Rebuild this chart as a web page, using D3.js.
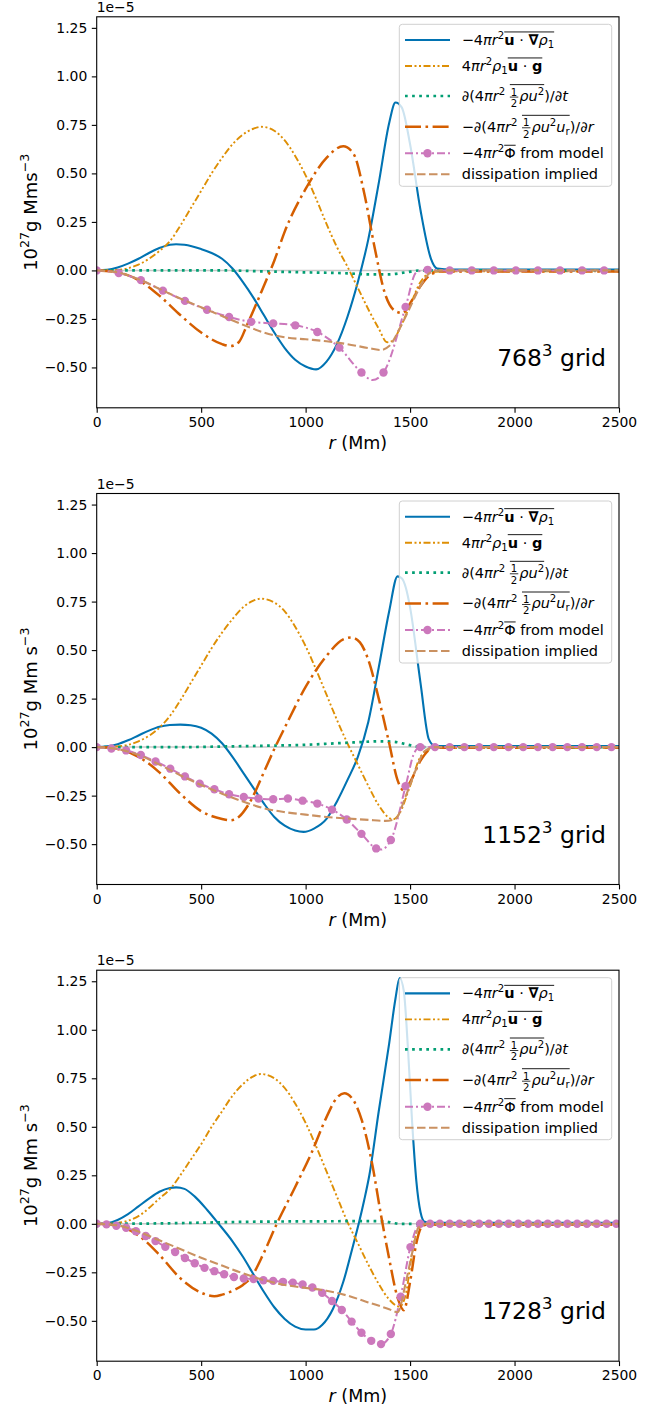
<!DOCTYPE html>
<html>
<head>
<meta charset="utf-8">
<title>Kinetic energy budget, three grids</title>
<script src="https://cdn.jsdelivr.net/npm/d3@7"></script>
<style>
  body { margin: 0; background: #fff; }
  svg text { font-family: "DejaVu Sans"; white-space: pre; }
</style>
</head>
<body>
<div id="container"></div>
<script>
// ---- data (units of 1e-5, r in Mm) ----
const grids = ["768", "1152", "1728"];
const yUnits = ["g Mms", "g Mm s", "g Mm s"];

// -4 pi r^2 <u . grad rho1>
const adv768 = [[0,0],[50,0.003],[100,0.015],[150,0.035],[200,0.06],[250,0.09],[300,0.115],[350,0.132],[380,0.135],[420,0.132],[500,0.11],[550,0.09],[600,0.06],[650,0.01],[700,-0.06],[750,-0.14],[800,-0.23],[850,-0.32],[900,-0.40],[950,-0.46],[1000,-0.495],[1050,-0.51],[1100,-0.47],[1150,-0.38],[1200,-0.24],[1250,-0.06],[1300,0.16],[1350,0.45],[1400,0.76],[1430,0.865],[1460,0.84],[1500,0.65],[1550,0.31],[1600,0.06],[1630,0.01],[1700,0.005],[2500,0.005]];
const adv1152 = [[0,0],[50,0.004],[100,0.015],[150,0.035],[200,0.06],[250,0.085],[300,0.105],[350,0.114],[400,0.116],[450,0.113],[500,0.10],[550,0.07],[600,0.02],[650,-0.05],[700,-0.13],[750,-0.21],[800,-0.29],[850,-0.36],[900,-0.405],[950,-0.43],[990,-0.437],[1040,-0.42],[1100,-0.37],[1150,-0.28],[1200,-0.17],[1250,-0.05],[1300,0.13],[1350,0.41],[1400,0.70],[1440,0.88],[1460,0.87],[1480,0.82],[1500,0.72],[1550,0.33],[1590,0.04],[1620,0.006],[2500,0.005]];
const adv1728 = [[0,0],[50,0.003],[100,0.02],[150,0.05],[200,0.09],[250,0.13],[300,0.165],[350,0.185],[380,0.188],[420,0.18],[470,0.14],[530,0.07],[580,0.005],[650,-0.09],[700,-0.17],[750,-0.26],[800,-0.35],[850,-0.43],[900,-0.49],[950,-0.53],[1000,-0.545],[1040,-0.545],[1080,-0.52],[1130,-0.44],[1180,-0.30],[1230,-0.10],[1254,0.0],[1280,0.12],[1305,0.25],[1350,0.58],[1400,0.93],[1430,1.16],[1450,1.267],[1470,1.2],[1490,0.9],[1510,0.52],[1530,0.22],[1550,0.06],[1570,0.01],[1600,0.005],[2500,0.005]];

// 4 pi r^2 rho1 <u . g>
const buoy768 = [[0,0],[100,0.003],[200,0.03],[300,0.10],[350,0.15],[400,0.23],[450,0.32],[500,0.41],[550,0.50],[600,0.58],[650,0.65],[700,0.70],[750,0.73],[790,0.74],[850,0.72],[900,0.67],[950,0.59],[1000,0.49],[1050,0.37],[1100,0.24],[1150,0.12],[1200,0.02],[1250,-0.09],[1300,-0.20],[1350,-0.30],[1390,-0.37],[1420,-0.36],[1450,-0.30],[1500,-0.18],[1550,-0.06],[1600,-0.01],[1650,-0.005],[2500,-0.005]];
const buoy1152 = [[0,0],[100,0.004],[200,0.03],[300,0.10],[350,0.16],[400,0.24],[450,0.33],[500,0.42],[550,0.51],[600,0.59],[650,0.66],[700,0.72],[750,0.755],[785,0.765],[850,0.745],[900,0.70],[950,0.62],[1000,0.52],[1050,0.40],[1100,0.27],[1150,0.14],[1200,0.02],[1250,-0.09],[1300,-0.20],[1350,-0.30],[1400,-0.365],[1420,-0.372],[1450,-0.34],[1500,-0.20],[1550,-0.05],[1600,-0.01],[1650,-0.005],[2500,-0.005]];
const buoy1728 = [[0,0],[100,0.005],[200,0.04],[300,0.13],[360,0.19],[400,0.25],[450,0.33],[500,0.41],[550,0.50],[600,0.58],[650,0.66],[700,0.72],[750,0.76],[785,0.772],[850,0.75],[900,0.70],[950,0.62],[1000,0.52],[1050,0.40],[1100,0.27],[1150,0.14],[1200,0.01],[1250,-0.10],[1300,-0.21],[1350,-0.31],[1400,-0.39],[1450,-0.427],[1480,-0.36],[1510,-0.15],[1540,-0.02],[1580,-0.005],[2500,-0.005]];

// d(KE)/dt
const dkdt768 = [[0,0],[600,0],[800,-0.005],[1000,-0.01],[1200,-0.015],[1300,-0.02],[1400,-0.02],[1480,-0.01],[1550,0],[2500,0]];
const dkdt1152 = [[0,0],[400,0],[600,0.003],[800,0.007],[1000,0.012],[1150,0.02],[1250,0.025],[1350,0.03],[1420,0.028],[1480,0.015],[1530,0.003],[1560,0],[2500,0]];
const dkdt1728 = [[0,0],[300,0.002],[500,0.006],[700,0.01],[900,0.012],[1100,0.013],[1300,0.014],[1380,0.012],[1420,0.004],[1450,0],[2500,0]];

// -d(KE flux)/dr
const flux768 = [[0,0],[100,-0.01],[200,-0.05],[300,-0.13],[400,-0.23],[500,-0.32],[600,-0.38],[640,-0.39],[680,-0.37],[720,-0.28],[800,-0.08],[850,0.05],[900,0.20],[1000,0.42],[1100,0.58],[1180,0.64],[1230,0.60],[1280,0.40],[1330,0.12],[1380,-0.12],[1430,-0.21],[1465,-0.22],[1500,-0.17],[1550,-0.08],[1600,-0.02],[1650,-0.005],[2500,-0.005]];
const flux1152 = [[0,0],[100,-0.01],[200,-0.05],[300,-0.13],[400,-0.24],[500,-0.33],[600,-0.37],[640,-0.377],[680,-0.36],[730,-0.29],[800,-0.13],[850,-0.01],[900,0.10],[1000,0.31],[1100,0.47],[1180,0.555],[1220,0.565],[1260,0.54],[1300,0.45],[1350,0.25],[1400,0.02],[1440,-0.17],[1470,-0.223],[1500,-0.18],[1550,-0.07],[1600,-0.01],[1650,-0.003],[2500,-0.003]];
const flux1728 = [[0,0],[100,-0.01],[200,-0.06],[300,-0.16],[400,-0.28],[500,-0.355],[563,-0.373],[600,-0.365],[650,-0.345],[700,-0.315],[736,-0.28],[800,-0.15],[862,0.0],[950,0.19],[1030,0.37],[1100,0.55],[1150,0.65],[1185,0.673],[1220,0.65],[1270,0.53],[1320,0.30],[1360,0.05],[1400,-0.18],[1440,-0.38],[1470,-0.445],[1500,-0.30],[1530,-0.10],[1560,-0.01],[1600,-0.003],[2500,-0.003]];

// -4 pi r^2 <Phi> from model: marker spacing (Mm) and values at the markers
const phiStep = [105.6, 70.4, 46.93];
const phi768 = [0,-0.014,-0.05,-0.104,-0.157,-0.203,-0.24,-0.265,-0.273,-0.283,-0.317,-0.398,-0.526,-0.526,-0.188,0.003,0,0,0,0,0,0,0,0];
const phi1152 = [0,-0.007,-0.017,-0.041,-0.074,-0.111,-0.151,-0.188,-0.217,-0.243,-0.257,-0.265,-0.269,-0.265,-0.276,-0.291,-0.322,-0.373,-0.447,-0.522,-0.479,-0.202,0,0,0,0,0,0,0,0,0,0,0,0,0,0];
const phi1728 = [0,-0.003,-0.01,-0.02,-0.038,-0.063,-0.089,-0.118,-0.145,-0.176,-0.203,-0.227,-0.244,-0.26,-0.274,-0.282,-0.285,-0.291,-0.294,-0.299,-0.303,-0.313,-0.328,-0.356,-0.398,-0.444,-0.504,-0.561,-0.603,-0.62,-0.568,-0.376,-0.12,0,0,0,0,0,0,0,0,0,0,0,0,0,0,0,0,0,0,0,0,0];
// line points between markers
const phiExtra768 = [[1320,-0.565],[1530,-0.01]];
const phiExtra1152 = [[1360,-0.528],[1520,-0.03]];
const phiExtra1728 = [];

// dissipation implied
const diss768 = [[0,0],[100,-0.01],[200,-0.045],[300,-0.095],[400,-0.145],[500,-0.19],[600,-0.235],[700,-0.28],[800,-0.32],[900,-0.345],[1000,-0.355],[1100,-0.365],[1200,-0.38],[1300,-0.40],[1360,-0.41],[1400,-0.39],[1450,-0.30],[1500,-0.19],[1550,-0.08],[1600,-0.01],[1650,0],[2500,0]];
const diss1152 = [[0,0],[100,-0.01],[200,-0.04],[300,-0.09],[400,-0.145],[500,-0.195],[600,-0.24],[700,-0.28],[800,-0.315],[900,-0.335],[1000,-0.348],[1100,-0.36],[1200,-0.368],[1300,-0.375],[1380,-0.38],[1430,-0.37],[1480,-0.25],[1530,-0.11],[1570,-0.02],[1620,0],[2500,0]];
const diss1728 = [[0,0],[100,-0.008],[200,-0.04],[300,-0.085],[400,-0.13],[500,-0.175],[600,-0.215],[700,-0.255],[800,-0.29],[900,-0.315],[1000,-0.33],[1100,-0.345],[1200,-0.37],[1300,-0.405],[1400,-0.44],[1440,-0.456],[1480,-0.30],[1510,-0.15],[1540,-0.02],[1580,0],[2500,0]];

const xTicks = [0, 500, 1000, 1500, 2000, 2500];
const yTicks = [-0.5, -0.25, 0, 0.25, 0.5, 0.75, 1.0, 1.25];

// legend labels: "i:" italic, "b:" bold, "p:" superscript, "s:" subscript, "f:" fraction, "[" "]" overline
const legendLabels = [
  ["−4", "i:π", "i:r", "p:2", "[", "b:u", " · ", "b:∇", "i:ρ", "s:1", "]"],
  ["4", "i:π", "i:r", "p:2", "i:ρ", "s:1", "[", "b:u", " · ", "b:g", "]"],
  ["∂(4", "i:π", "i:r", "p:2", " ", "[", "f:1/2", "i:ρ", "i:u", "p:2", "]", ")/∂", "i:t"],
  ["−∂(4", "i:π", "i:r", "p:2", " ", "[", "f:1/2", "i:ρ", "i:u", "p:2", "i:u", "s:r", "]", ")/∂", "i:r"],
  ["−4", "i:π", "i:r", "p:2", "[", "Φ", "]", " from model"],
  ["dissipation implied"]
];

// ---- layout ----
const left = 96.7, right = 619, axH = 391;
const tops = [16.8, 493.5, 970.2];
const yDomain = [-0.708, 1.307];

const styles = [
  {key: "adv",  color: "#0173B2", width: 2.1, dash: null},
  {key: "buoy", color: "#DE8F05", width: 1.9, dash: "7,2.5,2,2.5,2,2.5"},
  {key: "dkdt", color: "#029E73", width: 2.7, dash: "2.7,4.4"},
  {key: "flux", color: "#D55E00", width: 2.5, dash: "16,4.5,2.6,4.5"},
  {key: "phi",  color: "#CC78BC", width: 2,   dash: "8,3,2,3", marker: true},
  {key: "diss", color: "#CA9161", width: 2.1, dash: "8.5,3.5"}
];

const panels = [
  {adv: adv768, buoy: buoy768, dkdt: dkdt768, flux: flux768, phiM: phi768, phiX: phiExtra768, diss: diss768},
  {adv: adv1152, buoy: buoy1152, dkdt: dkdt1152, flux: flux1152, phiM: phi1152, phiX: phiExtra1152, diss: diss1152},
  {adv: adv1728, buoy: buoy1728, dkdt: dkdt1728, flux: flux1728, phiM: phi1728, phiX: phiExtra1728, diss: diss1728}
];

const svg = d3.select("#container")
    .append("svg")
    .attr("width", 666)
    .attr("height", 1410);

// text with superscripts through tspans
function supText(sel, parts, size) {
  let shift = 0;
  parts.forEach(([t, k]) => {
    const ts = sel.append("tspan").text(t);
    let target = 0;
    if (k === "p") { ts.style("font-size", (size * 0.7) + "px"); target = -size * 0.42; }
    if (k === "i") ts.style("font-style", "italic");
    ts.attr("dy", target - shift);
    shift = target;
  });
}

// mathtext-like label made of measured pieces
function mathLabel(g, x0, y0, tokens, size) {
  let cx = x0, overStart = null, overFrac = false;
  tokens.forEach(tok => {
    if (tok === "[") { overStart = cx; overFrac = false; return; }
    if (tok === "]") {
      const oy = y0 - size * (overFrac ? 1.13 : 0.9);
      g.append("line")
          .attr("x1", overStart).attr("x2", cx)
          .attr("y1", oy).attr("y2", oy)
          .attr("stroke", "#000").attr("stroke-width", 0.9);
      return;
    }
    const m = tok.match(/^([ibpsf]):(.*)$/);
    const kind = m ? m[1] : "n", str = m ? m[2] : tok;
    if (kind === "f") {
      const [a, b] = str.split("/");
      const fs = size * 0.7;
      const ta = g.append("text").attr("x", cx + 1).attr("y", y0 - size * 0.37).style("font-size", fs + "px").text(a);
      const tb = g.append("text").attr("x", cx + 1).attr("y", y0 + size * 0.42).style("font-size", fs + "px").text(b);
      const w = Math.max(ta.node().getComputedTextLength(), tb.node().getComputedTextLength()) + 2;
      g.append("line")
          .attr("x1", cx).attr("x2", cx + w)
          .attr("y1", y0 - size * 0.27).attr("y2", y0 - size * 0.27)
          .attr("stroke", "#000").attr("stroke-width", 0.8);
      cx += w + 1;
      overFrac = true;
      return;
    }
    const fs = (kind === "p" || kind === "s") ? size * 0.7 : size;
    const dy = kind === "p" ? -size * 0.42 : kind === "s" ? size * 0.2 : 0;
    const t = g.append("text").attr("x", cx).attr("y", y0 + dy).style("font-size", fs + "px").text(str);
    if (kind === "i") t.style("font-style", "italic");
    if (kind === "b") t.style("font-weight", "bold");
    cx += t.node().getComputedTextLength();
  });
}

panels.forEach((p, pi) => {
  const top = tops[pi], bottom = top + axH;
  const x = d3.scaleLinear().domain([0, 2500]).range([left, right]);
  const y = d3.scaleLinear().domain(yDomain).range([bottom, top]);
  const line = d3.line()
      .x(d => x(d[0]))
      .y(d => y(d[1]))
      .curve(d3.curveMonotoneX);

  const clipId = "clip" + pi;
  svg.append("clipPath").attr("id", clipId)
      .append("rect")
      .attr("x", left).attr("y", top)
      .attr("width", right - left).attr("height", axH);

  const plot = svg.append("g").attr("clip-path", `url(#${clipId})`);

  // zero reference
  plot.append("line")
      .attr("x1", left).attr("x2", right)
      .attr("y1", y(0)).attr("y2", y(0))
      .attr("stroke", "#c8c8c8").attr("stroke-width", 1.5);

  const phiMarkers = p.phiM.map((v, i) => [i * phiStep[pi], v]);
  const phiLine = phiMarkers.concat(p.phiX).sort((a, b) => a[0] - b[0]);

  styles.forEach(s => {
    const pts = s.key === "phi" ? phiLine : p[s.key];
    plot.append("path")
        .datum(pts)
        .attr("d", line)
        .attr("fill", "none")
        .attr("stroke", s.color)
        .attr("stroke-width", s.width)
        .attr("stroke-dasharray", s.dash);
    if (s.marker) {
      plot.selectAll(null)
          .data(phiMarkers)
          .join("circle")
          .attr("cx", d => x(d[0]))
          .attr("cy", d => y(d[1]))
          .attr("r", 4.2)
          .attr("fill", s.color);
    }
  });

  // frame
  svg.append("rect")
      .attr("x", left).attr("y", top)
      .attr("width", right - left).attr("height", axH)
      .attr("fill", "none").attr("stroke", "#000").attr("stroke-width", 1.1);

  // axes
  const gx = svg.append("g")
      .attr("transform", `translate(0,${bottom})`)
      .call(d3.axisBottom(x).tickValues(xTicks).tickFormat(d3.format("d")).tickSize(4.9).tickPadding(4.5).tickSizeOuter(0));
  const gy = svg.append("g")
      .attr("transform", `translate(${left},0)`)
      .call(d3.axisLeft(y).tickValues(yTicks).tickFormat(d3.format(".2f")).tickSize(4.9).tickPadding(4.5).tickSizeOuter(0));
  [gx, gy].forEach(a => {
    a.attr("font-family", null).attr("font-size", null);
    a.select(".domain").remove();
    a.selectAll(".tick line").attr("stroke", "#000").attr("stroke-width", 1.1);
    a.selectAll(".tick text").style("font-size", "13.9px").attr("fill", "#000");
  });

  // offset text
  svg.append("text")
      .attr("x", left).attr("y", top - 5)
      .style("font-size", "13.9px")
      .text("1e−5");

  // axis labels
  const xl = svg.append("text")
      .attr("x", (left + right) / 2).attr("y", bottom + 41)
      .attr("text-anchor", "middle")
      .style("font-size", "17.5px");
  supText(xl, [["r", "i"], [" (Mm)", ""]], 17.5);

  const yl = svg.append("text")
      .attr("transform", `translate(37,${top + axH / 2}) rotate(-90)`)
      .attr("text-anchor", "middle")
      .style("font-size", "18px");
  supText(yl, [["10", ""], ["27", "p"], [yUnits[pi], ""], ["−3", "p"]], 18);

  // grid annotation
  const gt = svg.append("text")
      .attr("x", 606).attr("y", top + 349)
      .attr("text-anchor", "end")
      .style("font-size", "23.5px");
  supText(gt, [[grids[pi], ""], ["3", "p"], [" grid", ""]], 23.5);

  // legend
  const lg = svg.append("g");
  lg.append("rect")
      .attr("x", 399.3).attr("y", top + 7.5)
      .attr("width", 212.4).attr("height", 162)
      .attr("rx", 3)
      .attr("fill", "#fff").attr("fill-opacity", 0.8)
      .attr("stroke", "#d0d0d0").attr("stroke-width", 1);
  const rowY = [23.2, 49.2, 79.2, 109.9, 136.5, 157.5];
  styles.forEach((s, i) => {
    const ry = top + rowY[i];
    lg.append("line")
        .attr("x1", 405).attr("x2", 450)
        .attr("y1", ry).attr("y2", ry)
        .attr("stroke", s.color)
        .attr("stroke-width", s.width)
        .attr("stroke-dasharray", s.dash);
    if (s.marker) {
      lg.append("circle").attr("cx", 427.5).attr("cy", ry).attr("r", 4.2).attr("fill", s.color);
    }
    mathLabel(lg, 461.7, ry + 5, legendLabels[i], 14.5);
  });
});
</script>
</body>
</html>
